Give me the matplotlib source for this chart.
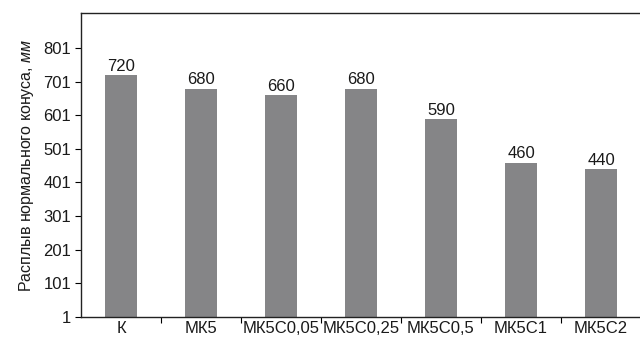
import matplotlib.pyplot as plt
import numpy as np

plt.rcParams['font.family'] = ['Liberation Sans', 'DejaVu Sans']
plt.rcParams['mathtext.fontset'] = 'custom'
plt.rcParams['mathtext.rm'] = 'Liberation Sans'
plt.rcParams['mathtext.it'] = 'Liberation Sans:italic'

# slump of the standard cone per mix
mixes = ["К", "МК5", "МК5С0,05", "МК5С0,25", "МК5С0,5", "МК5С1", "МК5С2"]
slump = [720, 680, 660, 680, 590, 460, 440]
yticks = [1, 101, 201, 301, 401, 501, 601, 701, 801]

fig = plt.figure(figsize=(6.4, 3.44), dpi=100)
ax = fig.add_axes([81 / 640, 1 - 317 / 344, 560 / 640, 304 / 344])

x = np.arange(len(mixes))
bars = ax.bar(x, np.array(slump) - 1, bottom=1, width=0.39, color="#858587")
for xi, v in zip(x, slump):
    ax.text(xi, v + 4, str(v), ha="center", va="bottom", fontsize=12, color="#1a1a1a")

ax.set_xlim(-0.5, len(mixes) - 0.5)
ax.set_ylim(1, 905)
ax.set_yticks(yticks)
ax.set_xticks(x)
ax.set_xticklabels(mixes, fontsize=12, color="#1a1a1a")
ax.set_xticks(np.arange(len(mixes) - 1) + 0.5, minor=True)
ax.tick_params(axis="x", which="major", length=0, pad=3)
ax.tick_params(axis="x", which="minor", length=4, width=0.8, direction="out")
ax.tick_params(axis="y", length=4, width=0.8, labelsize=12, pad=3, labelcolor="#1a1a1a")
ax.set_ylabel("Расплыв нормального конуса, $\\it{мм}$", fontsize=11.5, labelpad=5,
              color="#1a1a1a")

for side in ["left", "bottom", "top"]:
    ax.spines[side].set_color("#222222")
    ax.spines[side].set_linewidth(1.0)
ax.spines["right"].set_visible(False)

fig.savefig("out.png", dpi=100)
